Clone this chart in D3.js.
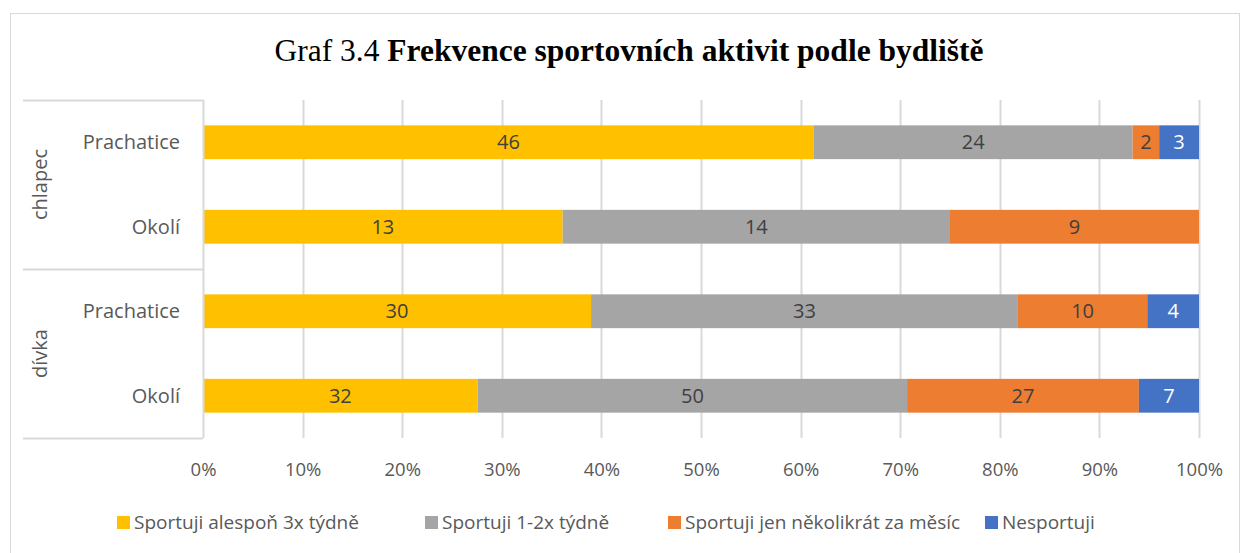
<!DOCTYPE html>
<html>
<head>
<meta charset="utf-8">
<script src="https://cdn.jsdelivr.net/npm/d3@7"></script>
<style>
  body { margin: 0; background: #fff; }
  text { font-family: "Open Sans", "Noto Sans", sans-serif; }
</style>
</head>
<body>
<div id="chart"></div>
<script>
// data
var groups = ["chlapec", "dívka"];
var places = ["Prachatice", "Okolí"];
var series = ["Sportuji alespoň 3x týdně", "Sportuji 1-2x týdně", "Sportuji jen několikrát za měsíc", "Nesportuji"];
var colors = ["#FFC000", "#A5A5A5", "#ED7D31", "#4472C4"];
var often     = [46, 13, 30, 32];
var weekly    = [24, 14, 33, 50];
var monthly   = [2, 9, 10, 27];
var never     = [3, 0, 4, 7];
var ticks = [0, 0.1, 0.2, 0.3, 0.4, 0.5, 0.6, 0.7, 0.8, 0.9, 1];

var width = 1243, height = 553;
var margin = {top: 100, left: 203, right: 44, bottom: 115};

var svg = d3.select("#chart").append("svg")
    .attr("width", width)
    .attr("height", height);

// outer frame
svg.append("rect")
    .attr("x", 10.5).attr("y", 13.5)
    .attr("width", 1229).attr("height", 560)
    .attr("fill", "none")
    .attr("stroke", "#d9d9d9");

// title
var title = svg.append("text")
    .attr("x", 629).attr("y", 61)
    .attr("text-anchor", "middle")
    .attr("font-size", "31.5px")
    .attr("fill", "#000")
    .style("font-family", "'Liberation Serif', 'DejaVu Serif', serif");
title.append("tspan").text("Graf 3.4 ");
title.append("tspan").attr("font-weight", "bold").text("Frekvence sportovních aktivit podle bydliště");

var rows = [];
groups.forEach(function(g, gi) {
  places.forEach(function(p, pi) {
    var i = gi * 2 + pi;
    rows.push({key: g + "|" + p, group: g, place: p,
      values: [often[i], weekly[i], monthly[i], never[i]]});
  });
});

var x = d3.scaleLinear().domain([0, 1]).range([margin.left, width - margin.right]);
var y = d3.scaleBand().domain(rows.map(function(d) { return d.key; }))
    .range([margin.top, height - margin.bottom])
    .paddingInner(0.6).paddingOuter(0.3);

// gridlines
svg.append("g").selectAll("line")
    .data(ticks.slice(1))
    .enter().append("line")
    .attr("x1", function(d) { return Math.round(x(d)) + 0.5; })
    .attr("x2", function(d) { return Math.round(x(d)) + 0.5; })
    .attr("y1", margin.top)
    .attr("y2", height - margin.bottom)
    .attr("stroke", "#d9d9d9")
    .attr("stroke-width", 2);

// bars
var stackData = rows.map(function(r) {
  var total = d3.sum(r.values), acc = 0;
  return r.values.map(function(v, si) {
    var seg = {key: r.key, si: si, v: v, x0: acc / total, x1: (acc + v) / total};
    acc += v;
    return seg;
  }).filter(function(s) { return s.v > 0; });
});

var barG = svg.append("g");
stackData.forEach(function(segs) {
  barG.selectAll(null)
    .data(segs)
    .enter().append("rect")
    .attr("x", function(d) { return x(d.x0); })
    .attr("y", function(d) { return y(d.key); })
    .attr("width", function(d) { return x(d.x1) - x(d.x0); })
    .attr("height", y.bandwidth())
    .attr("fill", function(d) { return colors[d.si]; });

  barG.selectAll(null)
    .data(segs)
    .enter().append("text")
    .attr("x", function(d) { return (x(d.x0) + x(d.x1)) / 2; })
    .attr("y", function(d) { return y(d.key) + y.bandwidth() / 2; })
    .attr("dy", "0.36em")
    .attr("text-anchor", "middle")
    .attr("font-size", "20px")
    .attr("fill", function(d) { return d.si == 3 ? "#fff" : "#404040"; })
    .text(function(d) { return d.v; });
});

// category axis (two levels)
var axisG = svg.append("g");
var plotTop = margin.top, plotBottom = height - margin.bottom;
var plotMid = (plotTop + plotBottom) / 2;
[plotTop, plotMid, plotBottom].forEach(function(yy) {
  axisG.append("line")
    .attr("x1", 23).attr("x2", margin.left)
    .attr("y1", Math.round(yy) + 0.5).attr("y2", Math.round(yy) + 0.5)
    .attr("stroke", "#d9d9d9").attr("stroke-width", 2);
});
axisG.append("line")
    .attr("x1", margin.left + 0.5).attr("x2", margin.left + 0.5)
    .attr("y1", plotTop).attr("y2", plotBottom)
    .attr("stroke", "#d9d9d9").attr("stroke-width", 2);

axisG.selectAll("text.place")
    .data(rows)
    .enter().append("text")
    .attr("class", "place")
    .attr("x", 180)
    .attr("y", function(d) { return y(d.key) + y.bandwidth() / 2; })
    .attr("dy", "0.36em")
    .attr("text-anchor", "end")
    .attr("font-size", "20px")
    .attr("fill", "#595959")
    .text(function(d) { return d.place; });

axisG.selectAll("text.group")
    .data(groups)
    .enter().append("text")
    .attr("class", "group")
    .attr("transform", function(d, i) {
      var cy = plotTop + (plotBottom - plotTop) / 4 * (i * 2 + 1);
      return "translate(40," + cy + ") rotate(-90)";
    })
    .attr("dy", "0.36em")
    .attr("text-anchor", "middle")
    .attr("font-size", "20px")
    .attr("fill", "#595959")
    .text(function(d) { return d; });

// value axis labels
var xAxis = svg.append("g")
    .attr("transform", "translate(0," + (plotBottom + 22) + ")")
    .call(d3.axisBottom(x).tickValues(ticks).tickFormat(d3.format(".0%")).tickSize(0));
xAxis.select(".domain").remove();
xAxis.selectAll("text")
    .attr("font-size", "18.5px")
    .attr("fill", "#595959")
    .style("font-family", "'Open Sans', sans-serif");

// legend
var legendX = [117, 425, 668, 985];
var legend = svg.append("g").selectAll("g")
    .data(series)
    .enter().append("g")
    .attr("transform", function(d, i) { return "translate(" + legendX[i] + ",522)"; });
legend.append("rect")
    .attr("x", 0).attr("y", -6)
    .attr("width", 13).attr("height", 13)
    .attr("fill", function(d, i) { return colors[i]; });
legend.append("text")
    .attr("x", 17).attr("y", 0)
    .attr("dy", "0.36em")
    .attr("font-size", "19px")
    .attr("fill", "#595959")
    .text(function(d) { return d; });
</script>
</body>
</html>
